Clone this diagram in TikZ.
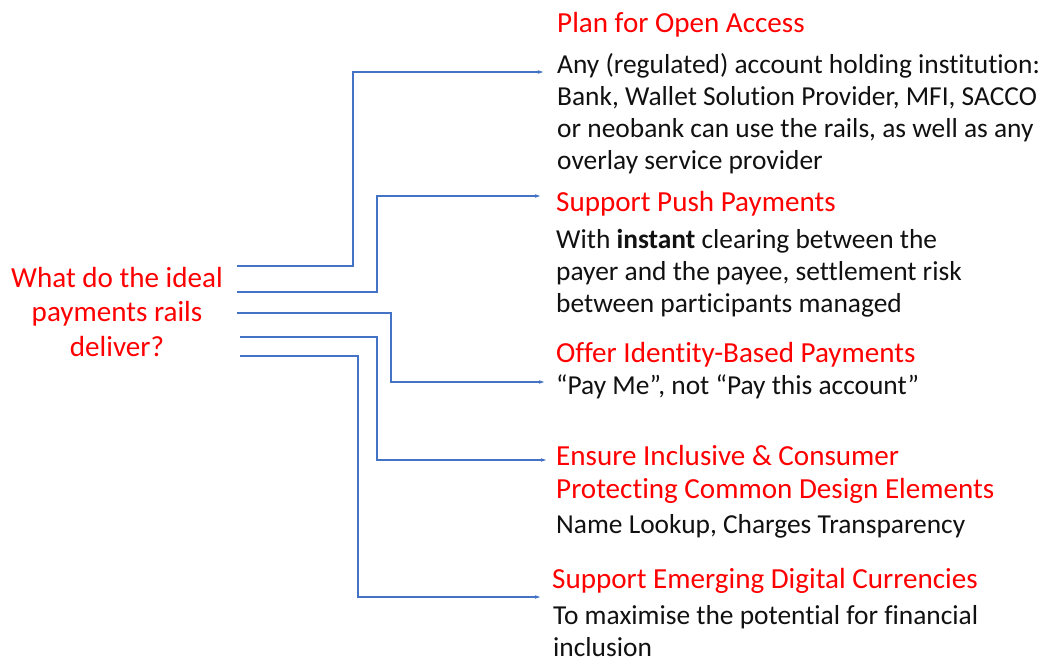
\documentclass[tikz,border=0pt]{standalone}
\usepackage{fontspec}
\setmainfont{Carlito}[Ligatures={NoCommon}]
\usetikzlibrary{arrows.meta}
\definecolor{lineblue}{HTML}{4472C4}
\definecolor{titlered}{HTML}{FF0000}
\definecolor{bodyblack}{HTML}{111111}
\begin{document}
\begin{tikzpicture}[x=1pt,y=-1pt,
  conn/.style={draw=lineblue,line width=1.1pt,-{Stealth[length=5pt,width=3.5pt]}},
  titletext/.style={anchor=base west,inner sep=0pt,align=left,text=titlered,font=\fontsize{29.1}{33.5}\selectfont},
  bodytext/.style={anchor=base west,inner sep=0pt,align=left,text=bodyblack,font=\fontsize{27.4}{32}\selectfont},
  question/.style={anchor=base,inner sep=0pt,align=center,text=titlered,font=\fontsize{29.1}{34.5}\selectfont}]
\useasboundingbox (0,0) rectangle (1039,661);
\fill[white] (0,0) rectangle (1039,661);

% multi-line nodes are placed by the baseline of their last line
\node[question] (q) at (117,356) {What do the ideal\\payments rails\\deliver?};

\node[titletext] (t1) at (557,33) {Plan for Open Access};
\node[bodytext] (b1) at (557,169) {Any (regulated) account holding institution:\\Bank, Wallet Solution Provider, MFI, SACCO\\or neobank can use the rails, as well as any\\overlay service provider};

\node[titletext] (t2) at (556,211) {Support Push Payments};
\node[bodytext] (b2) at (556,312) {With \textbf{instant} clearing between the\\payer and the payee, settlement risk\\between participants managed};

\node[titletext] (t3) at (556,362) {Offer Identity-Based Payments};
\node[bodytext] (b3) at (556,394) {“Pay Me”, not “Pay this account”};

\node[titletext] (t4) at (556,498.5) {Ensure Inclusive \& Consumer\\Protecting Common Design Elements};
\node[bodytext] (b4) at (556,533) {Name Lookup, Charges Transparency};

\node[titletext] (t5) at (552,588) {Support Emerging Digital Currencies};
\node[bodytext] (b5) at (553,656) {To maximise the potential for financial\\inclusion};

% connector start points, knees and ends
\coordinate (s1) at (237,266); \coordinate (k1) at (353,72);  \coordinate (e1) at (543,72);
\coordinate (s2) at (237,292); \coordinate (k2) at (377,196); \coordinate (e2) at (540,196);
\coordinate (s3) at (237,313); \coordinate (k3) at (391,382); \coordinate (e3) at (544,382);
\coordinate (s4) at (240,337); \coordinate (k4) at (377,460); \coordinate (e4) at (546,460);
\coordinate (s5) at (240,356); \coordinate (k5) at (358,597); \coordinate (e5) at (540,597);

\draw[conn] (s1) -| (k1) -- (e1);
\draw[conn] (s2) -| (k2) -- (e2);
\draw[conn] (s3) -| (k3) -- (e3);
\draw[conn] (s4) -| (k4) -- (e4);
\draw[conn] (s5) -| (k5) -- (e5);
\end{tikzpicture}
\end{document}
